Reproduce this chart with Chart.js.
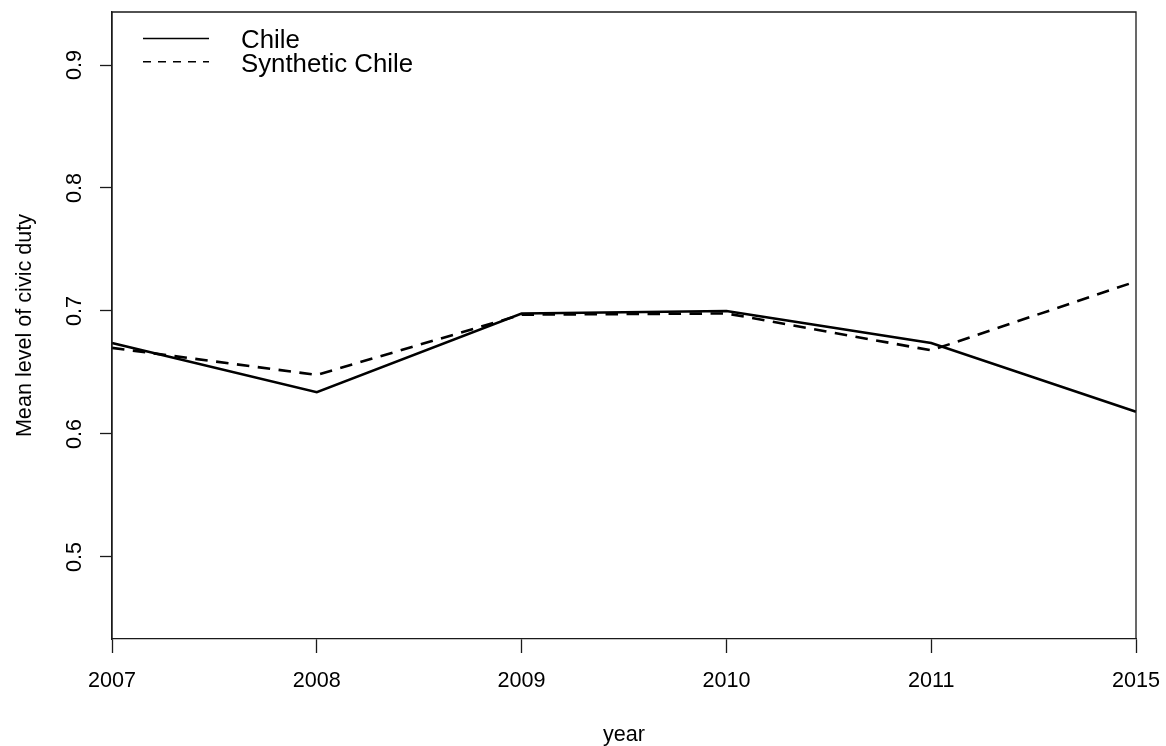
<!DOCTYPE html>
<html>
<head>
<meta charset="utf-8">
<title>Mean level of civic duty: Chile vs Synthetic Chile</title>
<script src="https://cdn.jsdelivr.net/npm/chart.js@4.4.1/dist/chart.umd.min.js"></script>
<style>
  html, body { margin: 0; padding: 0; background: #fff; }
  #wrap { width: 1166px; height: 746px; }
</style>
</head>
<body>
<div id="wrap"><canvas id="chart" width="1166" height="746"></canvas></div>
<script>
// Survey years and mean civic-duty scores
const years = ['2007', '2008', '2009', '2010', '2011', '2015'];
const chile = [0.674, 0.634, 0.698, 0.700, 0.674, 0.618];
const syntheticChile = [0.670, 0.648, 0.697, 0.698, 0.668, 0.724];
const yTickValues = [0.5, 0.6, 0.7, 0.8, 0.9];
const yTickLabels = ['0.5', '0.6', '0.7', '0.8', '0.9'];
const seriesNames = ['Chile', 'Synthetic Chile'];

const FONT = '"Liberation Sans", Arial, Helvetica, sans-serif';
const AXIS_COLOR = '#1a1a1a';

// Frame, rotated y tick labels, axis titles and legend in base-graphics style
const framePlugin = {
  id: 'frame',
  afterDraw(chart) {
    const { ctx, chartArea: a, scales } = chart;
    ctx.save();
    ctx.strokeStyle = AXIS_COLOR;
    ctx.lineWidth = 1.3;
    ctx.beginPath();
    ctx.moveTo(a.left, a.bottom);
    ctx.lineTo(a.left, a.top);
    ctx.lineTo(a.right, a.top);
    ctx.lineTo(a.right, a.bottom);
    ctx.stroke();

    // y tick labels, reading bottom-to-top
    ctx.fillStyle = '#000';
    ctx.font = '21.6px ' + FONT;
    ctx.textAlign = 'center';
    ctx.textBaseline = 'alphabetic';
    yTickValues.forEach((v, i) => {
      const py = scales.y.getPixelForValue(v);
      ctx.save();
      ctx.translate(81, py);
      ctx.rotate(-Math.PI / 2);
      ctx.fillText(yTickLabels[i], 0, 0);
      ctx.restore();
    });

    // y axis title
    ctx.save();
    ctx.translate(30.5, (a.top + a.bottom) / 2);
    ctx.rotate(-Math.PI / 2);
    ctx.fillText('Mean level of civic duty', 0, 0);
    ctx.restore();

    // x axis title
    ctx.fillText('year', (a.left + a.right) / 2, 741);

    // legend
    const lx0 = 143, lx1 = 209, tx = 241;
    const rows = [
      { y: 38.5, base: 47.7, dash: [] },
      { y: 61.7, base: 71.5, dash: [8, 7] }
    ];
    ctx.lineWidth = 1.4;
    ctx.strokeStyle = '#000';
    ctx.textAlign = 'left';
    ctx.font = '25.8px ' + FONT;
    rows.forEach((r, i) => {
      ctx.setLineDash(r.dash);
      ctx.beginPath();
      ctx.moveTo(lx0, r.y);
      ctx.lineTo(lx1, r.y);
      ctx.stroke();
      ctx.setLineDash([]);
      ctx.fillText(seriesNames[i], tx, r.base);
    });
    ctx.restore();
  }
};

new Chart(document.getElementById('chart'), {
  type: 'line',
  data: {
    labels: years,
    datasets: [
      {
        label: seriesNames[0],
        data: chile,
        borderColor: '#000',
        borderWidth: 2.6,
        pointRadius: 0,
        tension: 0,
        fill: false
      },
      {
        label: seriesNames[1],
        data: syntheticChile,
        borderColor: '#000',
        borderWidth: 2.6,
        borderDash: [12.5, 8.5],
        pointRadius: 0,
        tension: 0,
        fill: false
      }
    ]
  },
  options: {
    responsive: false,
    devicePixelRatio: 1,
    animation: false,
    events: [],
    layout: { padding: { left: 0, top: 12, right: 30, bottom: 0 } },
    plugins: {
      legend: { display: false },
      tooltip: { enabled: false },
      title: { display: false }
    },
    scales: {
      x: {
        type: 'category',
        offset: false,
        grid: {
          drawOnChartArea: false,
          drawTicks: true,
          tickLength: 14,
          tickWidth: 1.3,
          tickColor: AXIS_COLOR
        },
        border: { display: true, color: AXIS_COLOR, width: 1.3 },
        ticks: {
          color: '#000',
          font: { family: FONT, size: 21.6 },
          padding: 15,
          maxRotation: 0,
          minRotation: 0,
          autoSkip: false
        },
        afterFit(scale) {
          scale.height = 107;
          scale.paddingLeft = 0;
          scale.paddingRight = 0;
        }
      },
      y: {
        min: 0.4333,
        max: 0.9431,
        grid: {
          drawOnChartArea: false,
          drawTicks: true,
          tickLength: 12,
          tickWidth: 1.3,
          tickColor: AXIS_COLOR
        },
        border: { display: true, color: AXIS_COLOR, width: 1.3 },
        ticks: { display: false },
        afterBuildTicks(scale) {
          scale.ticks = yTickValues.map(v => ({ value: v }));
        },
        afterFit(scale) { scale.width = 112; }
      }
    }
  },
  plugins: [framePlugin]
});
</script>
</body>
</html>
